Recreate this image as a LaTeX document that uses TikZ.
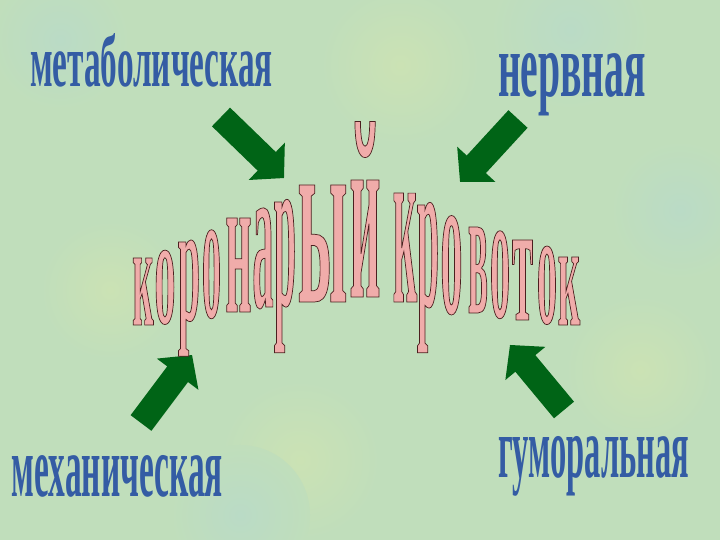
\documentclass[tikz,border=0pt]{standalone}
\usepackage{fontspec}
\setmainfont{Liberation Serif}
\definecolor{bgc}{RGB}{192,222,187}
\definecolor{bgy}{RGB}{203,226,180}
\definecolor{bgb}{RGB}{186,219,198}
\definecolor{bluec}{RGB}{52,92,164}
\definecolor{pinkc}{RGB}{240,172,170}
\definecolor{arrowc}{RGB}{0,100,22}
\newsavebox\lbox
\newdimen\xhdim
% #1 width, #2 x-height, #3 style code, #4 text
\newcommand\fitx[4]{\begingroup#3\fontsize{100pt}{100pt}\selectfont
  \sbox\lbox{#4}\xhdim=1ex
  \pgfmathsetmacro\fsz{100*#2/\the\xhdim}%
  \pgfmathsetmacro\stf{#1/\the\wd\lbox*100/\fsz}%
  \edef\tmp{\noexpand\addfontfeatures{FakeStretch=\stf}}\tmp
  \fontsize{\fsz pt}{\fsz pt}\selectfont#4\endgroup}
\newcommand\pinkl[3]{\fitx{#1}{#2}{\bfseries\color{pinkc}\special{pdf:literal direct 0.30 0.12 0.12 RG 2 Tr 0.7 w}}{#3\special{pdf:literal direct 0 Tr}}}
\newcommand\blueword[3]{\fitx{#1}{#2}{\color{bluec}\bfseries}{#3}}
\newcommand\blockarrow[3]{\fill[arrowc, shift={(#1)}, rotate=#2] (0,-13) -- ({#3-24},-13) -- ({#3-24},-26) -- (#3,0) -- ({#3-24},26) -- ({#3-24},13) -- (0,13) -- cycle;}
\tikzset{
  arch/.style={anchor=base, inner sep=0pt, outer sep=0pt},
  word/.style={anchor=base west, inner sep=0pt, outer sep=0pt}
}
\begin{document}
\begin{tikzpicture}[x=1pt,y=1pt]
\useasboundingbox (0,0) rectangle (720,540);
\fill[bgc] (0,0) rectangle (720,540);
% soft background patches
\shade[inner color=bgy, outer color=bgc] (400,475) circle (80);
\shade[inner color=bgy, outer color=bgc] (110,250) circle (70);
\shade[inner color=bgy, outer color=bgc] (640,170) circle (75);
\shade[inner color=bgy, outer color=bgc] (300,80) circle (80);
\shade[inner color=bgb, outer color=bgc] (570,510) circle (80);
\shade[inner color=bgb, outer color=bgc] (60,500) circle (70);
\shade[inner color=bgb, outer color=bgc] (680,330) circle (70);
\shade[inner color=bgb, outer color=bgc] (240,25) circle (70);
% blue words
\node[word] (met)  at (30,453) {\blueword{243}{34}{метаболическая}};
\node[word] (nerv) at (498,443) {\blueword{148}{42}{нервная}};
\node[word] (mech) at (12,43)  {\blueword{211}{40}{механическая}};
\node[word] (gum)  at (498,62) {\blueword{191}{40}{гуморальная}};
% arrows
\coordinate (t1) at (221,423);
\coordinate (t2) at (518,421);
\coordinate (t3) at (141,117);
\coordinate (t4) at (564,130);
\blockarrow{t1}{-44.1}{87.7}
\blockarrow{t2}{-132.6}{85.6}
\blockarrow{t3}{53.1}{85}
\blockarrow{t4}{129.7}{84.5}
% arched title
\node[arch] (l1)  at (143,215)   {\pinkl{21}{67}{к}};
\node[arch] (l2)  at (165,217)   {\pinkl{21}{71}{о}};
\node[arch] (l3)  at (189,220)   {\pinkl{22}{78}{р}};
\node[arch] (l4)  at (211.5,223) {\pinkl{19}{85}{о}};
\node[arch] (l5)  at (238.5,228) {\pinkl{26}{94}{н}};
\node[arch] (l6)  at (263,233)   {\pinkl{21}{97}{а}};
\node[arch] (l7)  at (285,235)   {\pinkl{22}{103}{р}};
\node[arch] (l8)  at (322.5,238) {\pinkl{50}{117}{ы}};
\node[arch] (l9)  at (365,243)   {\pinkl{31}{117}{й}};
\node[arch] (l10) at (405,238)   {\pinkl{24}{109}{к}};
\node[arch] (l11) at (428,234)   {\pinkl{22}{101}{р}};
\node[arch] (l12) at (451.5,227) {\pinkl{22}{95}{о}};
\node[arch] (l13) at (478,227)   {\pinkl{20}{86}{в}};
\node[arch] (l14) at (500,223)   {\pinkl{20}{84}{о}};
\node[arch] (l15) at (522.5,220) {\pinkl{21}{80}{т}};
\node[arch] (l16) at (547,217)   {\pinkl{20}{75}{о}};
\node[arch] (l17) at (569,215)   {\pinkl{22}{68}{к}};
\end{tikzpicture}
\end{document}
